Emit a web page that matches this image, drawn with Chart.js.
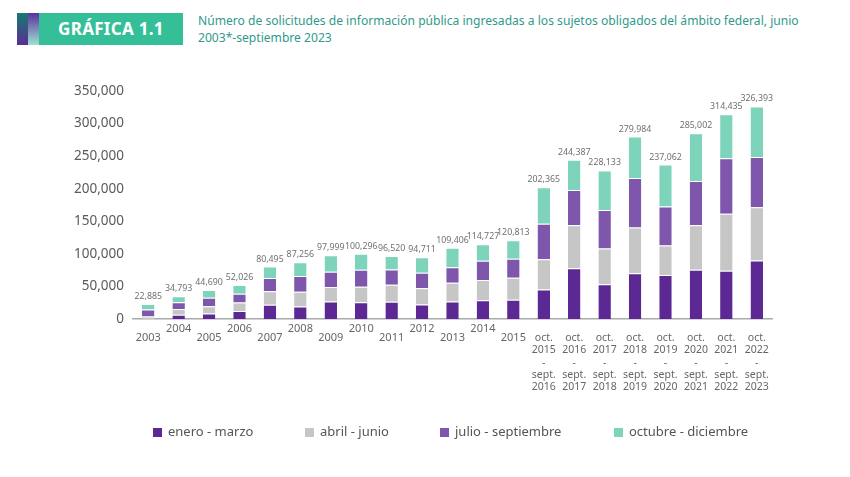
<!DOCTYPE html>
<html><head><meta charset="utf-8">
<script src="https://cdn.jsdelivr.net/npm/chart.js@4"></script>
<style>
html,body{margin:0;padding:0;background:#fff;}
#wrap{position:relative;width:850px;height:477px;overflow:hidden;font-family:"Noto Sans",sans-serif;}
#s1{position:absolute;left:17px;top:13px;width:11px;height:32px;background:linear-gradient(#157a70,#5a2d95);}
#s2{position:absolute;left:28px;top:13px;width:11px;height:32px;background:linear-gradient(#5b30a0,#9ee0d0);}
#badge{position:absolute;left:39px;top:13px;width:144px;height:32px;background:#35bf98;color:#fff;font:bold 17px "Noto Sans",sans-serif;line-height:32px;text-align:center;letter-spacing:0.3px;}
#sub{position:absolute;left:198px;top:12px;width:640px;color:#2f9a8c;font:12.1px "Noto Sans",sans-serif;line-height:17px;}
canvas{position:absolute;left:0;top:0;}
</style></head><body>
<div id="wrap">
<div id="s1"></div><div id="s2"></div>
<div id="badge">GRÁFICA 1.1</div>
<div id="sub">Número de solicitudes de información pública ingresadas a los sujetos obligados del ámbito federal, junio<br>2003*-septiembre 2023</div>
<canvas id="c" width="850" height="477"></canvas>
</div>
<script>
const categories = [
  ["2003"],["2004"],["2005"],["2006"],["2007"],["2008"],["2009"],["2010"],["2011"],["2012"],["2013"],["2014"],["2015"],
  ["oct.","2015","-","sept.","2016"],["oct.","2016","-","sept.","2017"],["oct.","2017","-","sept.","2018"],
  ["oct.","2018","-","sept.","2019"],["oct.","2019","-","sept.","2020"],["oct.","2020","-","sept.","2021"],
  ["oct.","2021","-","sept.","2022"],["oct.","2022","-","sept.","2023"]
];
const eneroMarzo = [0,6400,8400,12200,21800,19200,26800,25900,26500,22250,27000,28900,29400,45300,78050,53450,70300,67550,75500,74200,89800];
const abrilJunio = [4000,9100,11050,13250,20800,22800,22200,23750,26000,24850,28500,31000,34050,46350,65700,54950,70250,45300,68250,87550,81600];
const julioSept = [10500,10200,13100,13250,20300,23850,23700,25900,23350,23800,23800,29400,28850,54550,54400,59050,75850,59800,68250,85000,77450];
const octubreDic = [8385,9093,12140,13326,17595,21406,25299,24746,20670,23811,30106,25427,28513,56165,46237,60683,63584,64412,73002,67685,77543];
const totals = [22885,34793,44690,52026,80495,87256,97999,100296,96520,94711,109406,114727,120813,202365,244387,228133,279984,237062,285002,314435,326393];
const seriesNames = ["enero - marzo","abril - junio","julio - septiembre","octubre - diciembre"];
const seriesColors = ["#5c2894","#c6c6c6","#7e57ad","#7dd4bb"];

const FONT = '"Noto Sans", sans-serif';

const labelPlugin = {
  id: 'labels',
  afterDatasetsDraw(chart) {
    const ctx = chart.ctx;
    const x = chart.scales.x, y = chart.scales.y;
    ctx.save();
    // totals
    ctx.fillStyle = '#707070';
    ctx.font = '8.8px ' + FONT;
    ctx.textAlign = 'center';
    ctx.textBaseline = 'alphabetic';
    totals.forEach((t, i) => {
      ctx.fillText(t.toLocaleString('en-US'), x.getPixelForValue(i), y.getPixelForValue(t) - 5);
    });
    // x labels
    ctx.fillStyle = '#666';
    ctx.textBaseline = 'middle';
    categories.forEach((lab, i) => {
      const px = x.getPixelForValue(i);
      if (lab.length === 1) {
        ctx.font = '11px ' + FONT;
        const yy = (i % 2 === 1) ? 329 : 338;
        ctx.fillText(lab[0], px, yy);
      } else {
        ctx.font = '10.5px ' + FONT;
        lab.forEach((l, k) => ctx.fillText(l, px, 338 + k * 12.3));
      }
    });
    // legend
    const legX = [153, 305, 440, 614];
    ctx.textAlign = 'left';
    ctx.font = '13px ' + FONT;
    chart.data.datasets.forEach((ds, i) => {
      ctx.fillStyle = ds.backgroundColor;
      ctx.fillRect(legX[i], 428, 9, 9);
      ctx.fillStyle = '#555';
      ctx.fillText(ds.label, legX[i] + 15, 432.5);
    });
    ctx.restore();
  }
};

new Chart(document.getElementById('c'), {
  type: 'bar',
  data: {
    labels: categories.map(c => c.join(' ')),
    datasets: [eneroMarzo, abrilJunio, julioSept, octubreDic].map((d, i) => ({
      label: seriesNames[i], data: d, backgroundColor: seriesColors[i],
      borderColor: 'rgba(255,255,255,0.6)', borderWidth: {top: 1, left: 0, right: 0, bottom: 0}, borderSkipped: false,
      categoryPercentage: 1, barPercentage: 0.41
    }))
  },
  options: {
    responsive: false, animation: false,
    layout: {padding: {left: 0, right: 78, top: 91, bottom: 158}},
    plugins: {legend: {display: false}, tooltip: {enabled: false}},
    scales: {
      x: {stacked: true, grid: {display: false, drawTicks: false},
          border: {display: true, color: '#aaaaaa', width: 1.5},
          ticks: {display: false},
          afterFit: s => { s.height = 0; }},
      y: {stacked: true, min: 0, max: 350000,
          grid: {display: false, drawTicks: false}, border: {display: false},
          ticks: {stepSize: 50000, padding: 9, color: '#5a5a5a', font: {family: FONT, size: 13.5}},
          afterFit: s => { s.width = 133; }}
    }
  },
  plugins: [labelPlugin]
});
</script>
</body></html>
